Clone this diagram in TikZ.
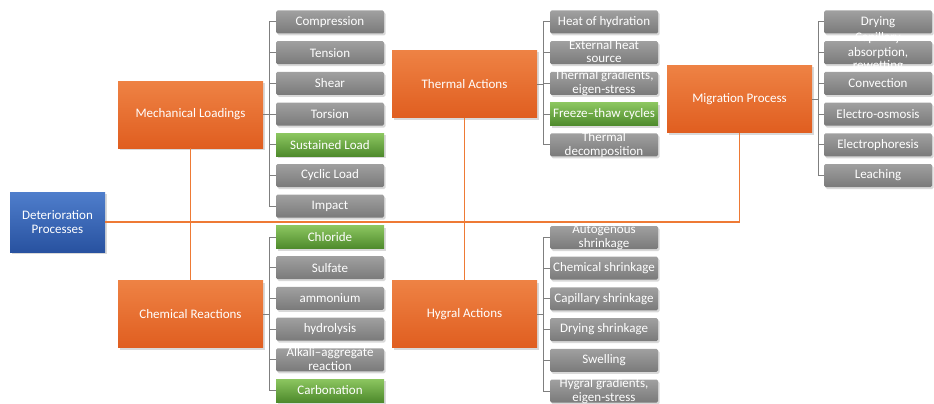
\documentclass[tikz,border=0pt]{standalone}
\usepackage{fontspec}
\setmainfont{Carlito}
\usetikzlibrary{shadows}
\definecolor{orangetop}{HTML}{EE8244}
\definecolor{orangebot}{HTML}{E05E20}
\definecolor{graytop}{HTML}{A0A0A0}
\definecolor{graybot}{HTML}{7A7A7A}
\definecolor{greentop}{HTML}{8CC660}
\definecolor{greenbot}{HTML}{4E8A2C}
\definecolor{bluetop}{HTML}{4F7ECC}
\definecolor{bluebot}{HTML}{2852A0}
\definecolor{linkorange}{HTML}{EE7A35}
\definecolor{linkgray}{HTML}{7F7F7F}
\newcommand{\boxlines}[1]{\smash{\raisebox{-3.5pt}{\begin{tabular}{@{}c@{}}#1\end{tabular}}}}
\begin{document}
\begin{tikzpicture}[x=1pt,y=-1pt,font=\fontsize{13}{14}\selectfont,
    boxbase/.style={text=white,inner sep=0pt,drop shadow={opacity=0.3,shadow xshift=1.5pt,shadow yshift=-2pt}},
    mainbox/.style={boxbase,top color=orangetop,bottom color=orangebot,minimum width=145pt,minimum height=67pt},
    rootbox/.style={boxbase,top color=bluetop,bottom color=bluebot,minimum width=95pt,minimum height=60pt,align=center},
    subbox/.style={boxbase,top color=graytop,bottom color=graybot,rounded corners=1.5pt,minimum width=108pt,minimum height=23pt},
    greenbox/.style={subbox,top color=greentop,bottom color=greenbot,sharp corners},
    link/.style={draw=linkorange,line width=1.6pt},
    brk/.style={draw=linkgray,line width=1pt}]
    \useasboundingbox (0,0) rectangle (934,404);
    \node[rootbox] (dp) at (57.5,222) {Deterioration\\Processes};
    \node[mainbox] (ml) at (190.5,114.5) {Mechanical Loadings};
    \node[mainbox] (cr) at (190.5,314) {Chemical Reactions};
    \node[mainbox] (ta) at (464.5,84) {Thermal Actions};
    \node[mainbox] (ha) at (464.5,314) {Hygral Actions};
    \node[mainbox] (mp) at (739.5,99) {Migration Process};
    \draw[link] (dp.east) -| (mp.south);
    \draw[link] (ml.south) -- (cr.north);
    \draw[link] (ta.south) -- (ha.north);
    \node[subbox] (ml1) at (330,22) {Compression};
    \node[subbox] (ml2) at (330,52.7) {Tension};
    \node[subbox] (ml3) at (330,83.4) {Shear};
    \node[subbox] (ml4) at (330,114.1) {Torsion};
    \node[greenbox] (ml5) at (330,144.8) {Sustained Load};
    \node[subbox] (ml6) at (330,175.5) {Cyclic Load};
    \node[subbox] (ml7) at (330,206.2) {Impact};
    \node[greenbox] (cr1) at (330,237) {Chloride};
    \node[subbox] (cr2) at (330,267.7) {Sulfate};
    \node[subbox] (cr3) at (330,298.4) {ammonium};
    \node[subbox] (cr4) at (330,329.1) {hydrolysis};
    \node[subbox] (cr5) at (330,359.8) {\boxlines{Alkali--aggregate\\reaction}};
    \node[greenbox] (cr6) at (330,390.5) {Carbonation};
    \node[subbox] (ta1) at (604,22) {Heat of hydration};
    \node[subbox] (ta2) at (604,52.7) {\boxlines{External heat\\source}};
    \node[subbox] (ta3) at (604,83.4) {\boxlines{Thermal gradients,\\eigen-stress}};
    \node[greenbox] (ta4) at (604,114.1) {Freeze--thaw cycles};
    \node[subbox] (ta5) at (604,144.8) {\boxlines{Thermal\\decomposition}};
    \node[subbox] (ha1) at (604,237.5) {\boxlines{Autogenous\\shrinkage}};
    \node[subbox] (ha2) at (604,268.2) {Chemical shrinkage};
    \node[subbox] (ha3) at (604,298.9) {Capillary shrinkage};
    \node[subbox] (ha4) at (604,329.6) {Drying shrinkage};
    \node[subbox] (ha5) at (604,360.3) {Swelling};
    \node[subbox] (ha6) at (604,391) {\boxlines{Hygral gradients,\\eigen-stress}};
    \node[subbox] (mp1) at (878,22) {Drying};
    \node[subbox] (mp2) at (878,52.7) {\boxlines{Capillary\\absorption,\\rewetting}};
    \node[subbox] (mp3) at (878,83.4) {Convection};
    \node[subbox] (mp4) at (878,114.1) {Electro-osmosis};
    \node[subbox] (mp5) at (878,144.8) {Electrophoresis};
    \node[subbox] (mp6) at (878,175.5) {Leaching};
    \draw[brk] (ml.east) -- +(6,0) |- (ml1.west);
    \draw[brk] (ml.east) -- +(6,0) |- (ml2.west);
    \draw[brk] (ml.east) -- +(6,0) |- (ml3.west);
    \draw[brk] (ml.east) -- +(6,0) |- (ml4.west);
    \draw[brk] (ml.east) -- +(6,0) |- (ml5.west);
    \draw[brk] (ml.east) -- +(6,0) |- (ml6.west);
    \draw[brk] (ml.east) -- +(6,0) |- (ml7.west);
    \draw[brk] (cr.east) -- +(6,0) |- (cr1.west);
    \draw[brk] (cr.east) -- +(6,0) |- (cr2.west);
    \draw[brk] (cr.east) -- +(6,0) |- (cr3.west);
    \draw[brk] (cr.east) -- +(6,0) |- (cr4.west);
    \draw[brk] (cr.east) -- +(6,0) |- (cr5.west);
    \draw[brk] (cr.east) -- +(6,0) |- (cr6.west);
    \draw[brk] (ta.east) -- +(6,0) |- (ta1.west);
    \draw[brk] (ta.east) -- +(6,0) |- (ta2.west);
    \draw[brk] (ta.east) -- +(6,0) |- (ta3.west);
    \draw[brk] (ta.east) -- +(6,0) |- (ta4.west);
    \draw[brk] (ta.east) -- +(6,0) |- (ta5.west);
    \draw[brk] (ha.east) -- +(6,0) |- (ha1.west);
    \draw[brk] (ha.east) -- +(6,0) |- (ha2.west);
    \draw[brk] (ha.east) -- +(6,0) |- (ha3.west);
    \draw[brk] (ha.east) -- +(6,0) |- (ha4.west);
    \draw[brk] (ha.east) -- +(6,0) |- (ha5.west);
    \draw[brk] (ha.east) -- +(6,0) |- (ha6.west);
    \draw[brk] (mp.east) -- +(6,0) |- (mp1.west);
    \draw[brk] (mp.east) -- +(6,0) |- (mp2.west);
    \draw[brk] (mp.east) -- +(6,0) |- (mp3.west);
    \draw[brk] (mp.east) -- +(6,0) |- (mp4.west);
    \draw[brk] (mp.east) -- +(6,0) |- (mp5.west);
    \draw[brk] (mp.east) -- +(6,0) |- (mp6.west);
\end{tikzpicture}
\end{document}
